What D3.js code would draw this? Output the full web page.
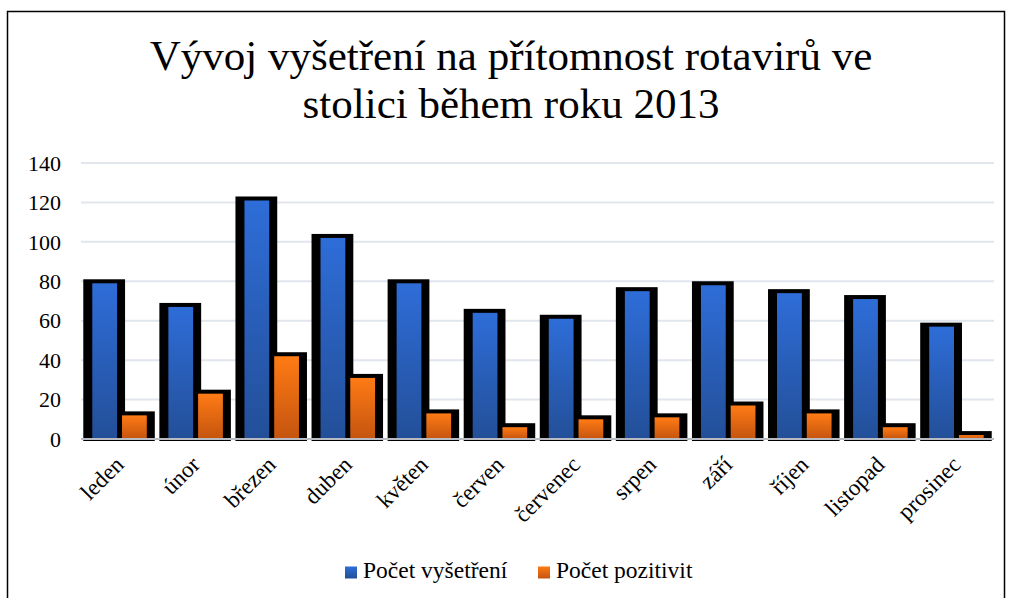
<!DOCTYPE html>
<html>
<head>
<meta charset="utf-8">
<script src="https://cdn.jsdelivr.net/npm/d3@7/dist/d3.min.js"></script>
<style>
  html, body { margin: 0; padding: 0; background: #fff; }
  svg { display: block; }
  svg text { font-family: "Liberation Serif", "Times New Roman", serif; }
</style>
</head>
<body>
<svg id="chart" width="1011" height="598"></svg>
<script>
// Monthly rotavirus stool tests in 2013
const months = ["leden", "únor", "březen", "duben", "květen", "červen",
                "červenec", "srpen", "září", "říjen", "listopad", "prosinec"];
const seriesNames = ["Počet vyšetření", "Počet pozitivit"];
const tested   = [80, 68, 122, 103, 80, 65, 62, 76, 79, 75, 72, 58];
const positive = [13, 24, 43, 32, 14, 7, 11, 12, 18, 14, 7, 3];
const yTicks = [0, 20, 40, 60, 80, 100, 120, 140];
const titleLines = ["Vývoj vyšetření na přítomnost rotavirů ve", "stolici během roku 2013"];

const FONT = "Liberation Serif, Times New Roman, serif";
const svg = d3.select("#chart");
const plot = { left: 81, right: 994, top: 163, bottom: 439 };

const x = d3.scaleBand().domain(months)
  .range([plot.left, plot.right]).paddingInner(0.06).paddingOuter(0.03);
const xs = d3.scaleBand().domain(seriesNames)
  .range([9, x.bandwidth() - 8]).paddingInner(1 / 6);
const y = d3.scaleLinear().domain([0, 140]).range([plot.bottom, plot.top]);

// gradients, one per series, stretched over each bar
const defs = svg.append("defs");
const grads = [
  { id: "gBlue", top: "#2e6dd8", bottom: "#234f98" },
  { id: "gOrange", top: "#ff7b15", bottom: "#c4540f" }
];
grads.forEach(g => {
  const lg = defs.append("linearGradient").attr("id", g.id)
    .attr("x1", 0).attr("y1", 0).attr("x2", 0).attr("y2", 1);
  lg.append("stop").attr("offset", "0%").attr("stop-color", g.top);
  lg.append("stop").attr("offset", "100%").attr("stop-color", g.bottom);
});

// outer chart frame
svg.append("rect").attr("x", 7.5).attr("y", 11.5).attr("width", 997).attr("height", 620)
  .attr("fill", "none").attr("stroke", "#000").attr("stroke-width", 1.5);

// title
svg.append("g").selectAll("text").data(titleLines).join("text")
  .attr("x", 511).attr("y", (d, i) => 70 + i * 48)
  .attr("text-anchor", "middle").attr("font-size", 43).attr("fill", "#000")
  .attr("font-family", FONT)
  .text(d => d);

// gridlines
svg.append("g").selectAll("line").data(yTicks.filter(t => t > 0)).join("line")
  .attr("x1", plot.left).attr("x2", plot.right)
  .attr("y1", d => y(d)).attr("y2", d => y(d))
  .attr("stroke", "#e1e5ec").attr("stroke-width", 2);

// y axis labels
const yAxis = d3.axisLeft(y).tickValues(yTicks).tickSize(0).tickPadding(0);
const yg = svg.append("g").attr("transform", `translate(61,0)`).call(yAxis)
  .attr("font-family", FONT).attr("font-size", 22);
yg.select(".domain").remove();
yg.selectAll("text").attr("font-size", 22).attr("font-family", FONT)
  .attr("fill", "#000").attr("dy", "0.33em");

// bars
const rows = months.map((m, i) => ({ month: m, values: [tested[i], positive[i]] }));
const bars = [];
rows.forEach(r => r.values.forEach((v, s) => bars.push({ month: r.month, s, v })));
const bx = d => x(d.month) + xs(seriesNames[d.s]);
const bw = xs.bandwidth();

// heavy black outline behind every bar
svg.append("g").selectAll("rect").data(bars).join("rect")
  .attr("x", d => bx(d) - 9).attr("width", bw + 17)
  .attr("y", d => y(d.v) - 2).attr("height", d => plot.bottom + 2 - (y(d.v) - 2))
  .attr("fill", "#000");

// gradient fill
svg.append("g").selectAll("rect").data(bars).join("rect")
  .attr("x", d => bx(d)).attr("width", bw)
  .attr("y", d => y(d.v) + 2).attr("height", d => Math.max(0, plot.bottom - (y(d.v) + 2)))
  .attr("fill", d => `url(#${grads[d.s].id})`);

// category axis line
svg.append("line").attr("x1", plot.left).attr("x2", plot.right)
  .attr("y1", plot.bottom).attr("y2", plot.bottom)
  .attr("stroke", "#b8bcc2").attr("stroke-width", 2);

// category labels, rotated
svg.append("g").selectAll("text").data(months).join("text")
  .attr("transform", d => `translate(${x(d) + x.bandwidth() / 2 + 6},466) rotate(-45)`)
  .attr("text-anchor", "end").attr("font-size", 23).attr("fill", "#000")
  .attr("font-family", FONT)
  .text(d => d);

// legend
const legendItems = [
  { name: seriesNames[0], sx: 345, tx: 363, grad: grads[0].id },
  { name: seriesNames[1], sx: 538, tx: 556, grad: grads[1].id }
];
const lg = svg.append("g");
lg.selectAll("rect").data(legendItems).join("rect")
  .attr("x", d => d.sx).attr("y", 566.5).attr("width", 12).attr("height", 12)
  .attr("fill", d => `url(#${d.grad})`);
lg.selectAll("text").data(legendItems).join("text")
  .attr("x", d => d.tx).attr("y", 578).attr("font-size", 23.5).attr("fill", "#000")
  .attr("font-family", FONT)
  .text(d => d.name);
</script>
</body>
</html>
